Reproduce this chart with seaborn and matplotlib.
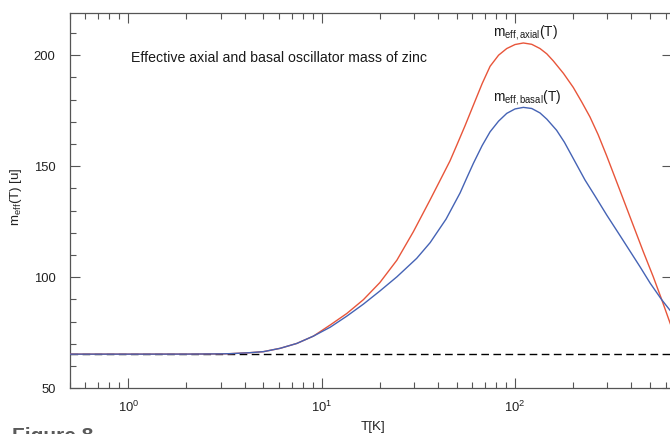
import matplotlib
matplotlib.use("Agg")
import matplotlib.pyplot as plt
import seaborn as sns
import pandas as pd
from matplotlib.ticker import LogLocator, MultipleLocator, NullFormatter, FixedLocator

# ---- data ----
T_axial = [0.5, 1.0, 2.0, 3.0, 3.37, 4.2, 5.0, 6.1, 7.44, 9.07, 11.07, 13.5, 16.44, 20.0,
           24.5, 29.8, 36.4, 41.0, 46.1, 50.1, 55.0, 60.9, 67.6, 74.3, 82.2, 90.6, 100.0,
           110.4, 122.0, 134.6, 146.0, 157.8, 178.0, 200.0, 221.0, 244.0, 269.0, 298.0,
           349.0, 408.0, 460.0, 518.0, 573.0, 632.0, 704.0]
m_axial = [65.38, 65.38, 65.4, 65.5, 65.6, 66.0, 66.5, 68.0, 70.2, 73.5, 78.5, 83.7, 89.9, 97.6,
           107.7, 120.5, 134.9, 143.7, 152.4, 159.7, 168.0, 177.5, 187.2, 195.0, 200.0, 203.0, 204.8,
           205.5, 204.9, 203.0, 200.6, 197.4, 191.8, 185.5, 179.0, 172.2, 164.2, 154.6,
           139.0, 123.5, 111.6, 100.3, 90.0, 79.6, 68.5]

T_basal = [0.5, 1.0, 2.0, 3.0, 3.37, 4.2, 5.0, 6.1, 7.44, 9.07, 11.07, 13.5, 16.44, 20.0,
           24.5, 31.0, 36.4, 44.0, 52.0, 56.2, 60.9, 67.6, 74.3, 82.2, 90.6, 100.0, 110.4,
           122.0, 134.6, 146.0, 164.0, 180.0, 200.0, 230.0, 260.0, 298.0, 350.0, 443.0,
           500.0, 573.0, 632.0, 704.0]
m_basal = [65.38, 65.38, 65.4, 65.5, 65.6, 66.0, 66.5, 68.0, 70.2, 73.5, 77.5, 82.5, 87.9, 93.8,
           100.2, 108.5, 115.6, 126.2, 138.0, 144.6, 151.3, 159.3, 165.5, 170.3, 173.8, 175.8, 176.5,
           176.0, 174.0, 171.2, 166.2, 160.8, 153.5, 143.8, 136.4, 128.0, 118.6, 104.7,
           97.3, 89.9, 85.2, 80.7]

m_zinc = 65.38  # low-temperature limit (dashed line)

title_text = "Effective axial and basal oscillator mass of zinc"
label_axial = r"m$_{\mathregular{eff,axial}}$(T)"
label_basal = r"m$_{\mathregular{eff,basal}}$(T)"
y_ticks = [50, 100, 150, 200]

# ---- style ----
sns.set_style("ticks")
plt.rcParams["font.family"] = ["Liberation Sans", "DejaVu Sans"]
plt.rcParams["mathtext.fontset"] = "custom"
plt.rcParams["mathtext.rm"] = "Liberation Sans"
plt.rcParams["mathtext.it"] = "Liberation Sans:italic"
plt.rcParams["mathtext.bf"] = "Liberation Sans:bold"

RED = "#e8553a"
BLUE = "#4563b5"
SPINE = "#555555"

fig = plt.figure(figsize=(6.70, 4.34), dpi=100)
ax = fig.add_axes([70 / 670, 1 - 388.3 / 434, 602 / 670, 375.3 / 434])

df_a = pd.DataFrame({"T": T_axial, "m": m_axial})
df_b = pd.DataFrame({"T": T_basal, "m": m_basal})

ax.axhline(m_zinc, color="black", lw=1.0, dashes=(5.5, 3.2), zorder=1)
sns.lineplot(data=df_a, x="T", y="m", color=RED, lw=1.0, ax=ax, zorder=3,
             sort=False, estimator=None)
sns.lineplot(data=df_b, x="T", y="m", color=BLUE, lw=1.0, ax=ax, zorder=4,
             sort=False, estimator=None)

ax.set_xscale("log")
ax.set_xlim(0.5, 648)
ax.set_ylim(50, 219)

ax.xaxis.set_major_locator(LogLocator(base=10, numticks=10))
ax.xaxis.set_minor_locator(LogLocator(base=10, subs=range(2, 10), numticks=20))
ax.xaxis.set_minor_formatter(NullFormatter())
ax.yaxis.set_major_locator(FixedLocator(y_ticks))
ax.yaxis.set_minor_locator(MultipleLocator(10))

for s in ax.spines.values():
    s.set_color(SPINE)
    s.set_linewidth(0.9)

ax.tick_params(axis="both", which="both", direction="in", colors=SPINE,
               labelcolor="#222222", labelsize=9.4)
ax.tick_params(axis="x", which="major", length=7, width=0.8, top=True, pad=8)
ax.tick_params(axis="x", which="minor", length=4, width=0.8, top=True)
ax.tick_params(axis="y", which="major", length=7, width=0.8, right=True, pad=10.5)
ax.tick_params(axis="y", which="minor", length=4.5, width=0.8, right=False, left=True)

ax.set_xlabel("T[K]", fontsize=9.6, color="#222222")
ax.set_ylabel(r"m$_{\mathregular{eff}}$(T) [u]", fontsize=9.6, color="#222222")
ax.xaxis.set_label_coords(0.504, -0.086)
ax.yaxis.set_label_coords(-0.077, 0.51)

ax.text(1.03, 197.0, title_text, fontsize=10.2, color="#1a1a1a",
        ha="left", va="baseline")
ax.text(113, 208.5, label_axial, fontsize=9.8, color="#1a1a1a",
        ha="center", va="baseline")
ax.text(116, 179.4, label_basal, fontsize=9.8, color="#1a1a1a",
        ha="center", va="baseline")

fig.text(12 / 670, -0.019, "Figure 8", fontsize=15, fontweight="bold",
         color="#5a5a5a", ha="left", va="baseline")

fig.savefig("out.png", dpi=100)
